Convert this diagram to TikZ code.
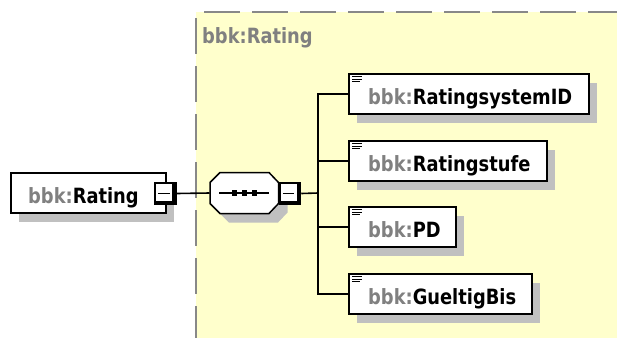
\documentclass[tikz,border=0pt]{standalone}
\usepackage{fontspec}
\setmainfont{DejaVu Sans}[FakeStretch=0.85]
\usetikzlibrary{shadows,positioning}

\definecolor{groupfill}{RGB}{255,255,204}
\definecolor{groupline}{RGB}{136,136,136}
\definecolor{shadowgray}{RGB}{192,192,192}
\definecolor{prefixgray}{RGB}{128,128,128}

\newcommand{\pfx}{\textcolor{prefixgray}{bbk:}}

\begin{document}
\begin{tikzpicture}[x=1pt,y=-1pt,
  elem/.style={draw=black, line width=1.6pt, fill=white, minimum height=40pt,
    inner sep=0pt, anchor=west,
    drop shadow={shadow xshift=8pt, shadow yshift=-9pt, fill=shadowgray, opacity=1}},
  elemtext/.style={anchor=base west, inner sep=0pt,
    font=\fontsize{21pt}{24pt}\selectfont\bfseries},
  conn/.style={draw=black, line width=1.6pt},
  icon/.style={draw=black, line width=1.2pt},
  groupdash/.style={draw=groupline, line width=2pt, dash pattern=on 36pt off 12pt},
  minusbox/.style={fill=black, minimum width=22.5pt, minimum height=22.5pt,
    inner sep=0pt, outer sep=0pt,
    path picture={
      \fill[white] ([shift={(2pt,-2pt)}]path picture bounding box.north west)
        rectangle ([shift={(-4.5pt,4pt)}]path picture bounding box.south east);
      \draw[line width=1.4pt] ([shift={(4pt,-11pt)}]path picture bounding box.north west)
        -- ++(11.5pt,0pt);
    }}
]
\useasboundingbox (0,0) rectangle (617,338);

% sequence group background and dashed border
\fill[groupfill] (196,12) rectangle (617,338);
\draw[groupdash] (204,12.3) -- (617,12.3);
\draw[groupdash] (196,18) -- (196,338);
\node[elemtext, text=prefixgray] (grouplabel) at (202,43) {bbk:Rating};

% root element
\node[elem, minimum width=155pt] (root) at (10,193) {};
\node[elemtext] (roottext) at ([shift={(18pt,-10pt)}]root.west) {\pfx Rating};
\node[minusbox] (rootminus) at (165.5,193.5) {};

% sequence compositor (octagon)
\node[minimum width=69pt, minimum height=41pt, inner sep=0pt, outer sep=0pt] (seq) at (244,193) {};
\filldraw[fill=white, draw=black, line width=1.5pt,
  drop shadow={shadow xshift=9pt, shadow yshift=-9pt, fill=shadowgray, opacity=1}]
  (210,182.5) -- (220,172.5) -- (269,172.5) -- (278.5,182.5) -- (278.5,203.5)
  -- (269,213.5) -- (220,213.5) -- (210,203.5) -- cycle;
\draw[line width=1.5pt] (219,193) -- (269,193);
\foreach \dx in {234.5,244.5,254.5}
  \fill (\dx-2.6,190.4) rectangle (\dx+2.6,195.6);
\node[minusbox] (seqminus) at (290,193.5) {};

% child elements
\node[elem, minimum width=240pt] (c1) at (348,94) {};
\node[elem, minimum width=198pt] (c2) at (348,161) {};
\node[elem, minimum width=107pt] (c3) at (348,227) {};
\node[elem, minimum width=183pt] (c4) at (348,294) {};

\node[elemtext] (t1) at ([shift={(20pt,-10pt)}]c1.west) {\pfx RatingsystemID};
\node[elemtext] (t2) at ([shift={(20pt,-10pt)}]c2.west) {\pfx Ratingstufe};
\node[elemtext] (t3) at ([shift={(20pt,-10pt)}]c3.west) {\pfx PD};
\node[elemtext] (t4) at ([shift={(20pt,-10pt)}]c4.west) {\pfx GueltigBis};

% simple-type icons
\foreach \c in {c1,c2,c3,c4}{
  \draw[icon] ([shift={(4pt,-3.5pt)}]\c.north west) -- ++(10pt,0pt);
  \draw[icon] ([shift={(4pt,-6pt)}]\c.north west) -- ++(10pt,0pt);
  \draw[icon] ([shift={(4pt,-8.5pt)}]\c.north west) -- ++(8pt,0pt);
}

% connectors
\coordinate (bus) at (318,193);
\draw[conn] (rootminus.east) -- (seq.west);
\draw[conn] (seqminus.east) -- (bus);
\foreach \c in {c1,c2,c3,c4}
  \draw[conn] (bus) |- (\c.west);
\end{tikzpicture}
\end{document}
